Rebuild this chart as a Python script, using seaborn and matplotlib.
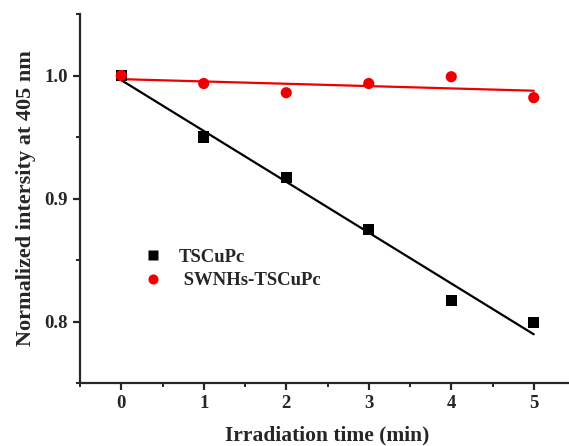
import numpy as np
import pandas as pd
import matplotlib
matplotlib.use("Agg")
import matplotlib.pyplot as plt
import seaborn as sns
from matplotlib.ticker import MultipleLocator

time_min = [0, 1, 2, 3, 4, 5]
tscupc = [1.000, 0.950, 0.917, 0.8745, 0.817, 0.799]
swnhs_tscupc = [1.000, 0.9935, 0.986, 0.9935, 0.999, 0.982]
series_names = ["TSCuPc", "SWNHs-TSCuPc"]

sns.set_style("ticks")
plt.rcParams['font.family'] = ['Liberation Serif', 'DejaVu Serif']
plt.rcParams['font.weight'] = 'bold'

df = pd.DataFrame({
    "time": time_min * 2,
    "value": tscupc + swnhs_tscupc,
    "series": [series_names[0]] * 6 + [series_names[1]] * 6,
})

fig = plt.figure(figsize=(5.69, 4.46), dpi=100)
ax = fig.add_axes([80/569, 1-383/446, 495/569, (383-14)/446])

# fit lines
sns.regplot(data=df[df.series == series_names[0]], x="time", y="value", ci=None,
            scatter=False, ax=ax, line_kws=dict(color="black", lw=1.6))
sns.regplot(data=df[df.series == series_names[1]], x="time", y="value", ci=None,
            scatter=False, ax=ax, line_kws=dict(color="#ee0000", lw=1.6))

sns.scatterplot(data=df, x="time", y="value", hue="series", style="series",
                markers={series_names[0]: "s", series_names[1]: "o"},
                palette={series_names[0]: "black", series_names[1]: "#ee0000"},
                s=65, edgecolor="none", ax=ax, zorder=5)

ax.set_xlim(-0.5, 5.5)
ax.set_ylim(0.75, 1.05)
ax.xaxis.set_major_locator(MultipleLocator(1))
ax.xaxis.set_minor_locator(MultipleLocator(0.5))
ax.yaxis.set_major_locator(MultipleLocator(0.1))
ax.yaxis.set_minor_locator(MultipleLocator(0.05))
ax.set_yticks([0.8, 0.9, 1.0])
ax.set_yticklabels(["0.8", "0.9", "1.0"])

for side in ["top", "right"]:
    ax.spines[side].set_visible(False)
for side in ["left", "bottom"]:
    ax.spines[side].set_linewidth(1.6)

ax.tick_params(axis="both", which="major", direction="out", length=5, width=1.6,
               labelsize=13.5)
ax.tick_params(axis="both", which="minor", direction="out", length=3, width=1.4)
for lab in ax.get_xticklabels() + ax.get_yticklabels():
    lab.set_fontweight("bold")

ax.set_xlabel("Irradiation time (min)", fontsize=15.5, fontweight="bold", labelpad=10)
ax.set_ylabel("Normalized intersity at 405 nm", fontsize=16, fontweight="bold", labelpad=6)

leg = ax.legend(loc="upper left", bbox_to_anchor=(0.075, 0.41), frameon=False,
                fontsize=13.5, handletextpad=0.4, labelspacing=0.35, markerscale=0.9)
for t in leg.get_texts():
    t.set_fontweight("bold")
leg.get_texts()[1].set_text(" " + series_names[1])

fig.savefig("out.png", dpi=100)
